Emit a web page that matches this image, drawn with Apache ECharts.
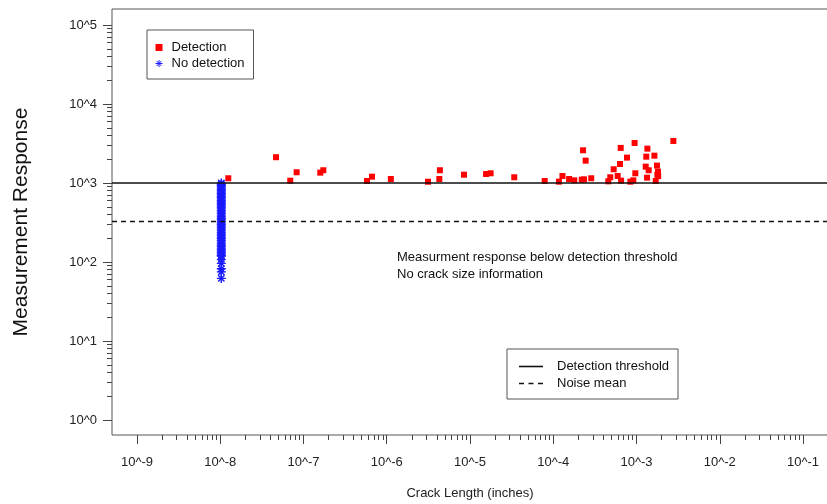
<!DOCTYPE html>
<html>
<head>
<meta charset="utf-8">
<script src="https://cdn.jsdelivr.net/npm/echarts@6/dist/echarts.min.js"></script>
<style>
html,body{margin:0;padding:0;background:#fff;}
#chart{width:827px;height:504px;}
</style>
</head>
<body>
<div id="chart"></div>
<script>
// ---- data (crack length in inches, measurement response) ----
const detectionX = [1.25e-8,4.68e-8,6.93e-8,8.28e-8,1.59e-7,1.73e-7,5.79e-7,6.65e-7,1.12e-6,3.13e-6,
  4.28e-6,4.35e-6,8.47e-6,1.56e-5,1.77e-5,3.40e-5,7.89e-5,1.17e-4,1.29e-4,1.55e-4,
  1.79e-4,2.20e-4,2.34e-4,2.28e-4,2.45e-4,2.86e-4,4.58e-4,4.84e-4,5.32e-4,5.94e-4,
  6.34e-4,6.46e-4,6.52e-4,7.69e-4,8.43e-4,9.16e-4,9.68e-4,9.48e-4,1.35e-3,1.31e-3,
  1.64e-3,1.29e-3,1.40e-3,1.34e-3,1.76e-3,1.81e-3,1.78e-3,1.82e-3,1.70e-3,2.77e-3];
const detectionY = [1148,2120,1070,1367,1352,1450,1060,1202,1124,1038,
  1124,1450,1274,1300,1327,1181,1060,1040,1227,1124,
  1080,1100,1112,2594,1918,1148,1050,1181,1492,1227,
  1741,2780,1070,2094,1040,1080,1327,3212,2720,2153,
  2218,1611,1450,1168,1660,1390,1274,1220,1060,3404];
const noDetectionX = 1.03e-8;
const noDetectionY = [1000,965,930,895,860,830,800,770,740,710,680,655,630,605,580,555,530,510,490,470,
  450,430,410,392,375,358,342,327,312,298,285,272,260,248,237,226,216,206,197,188,
  180,172,164,157,150,144,138,132,126,121,119,108,96,82,75,62];
const thresholdValue = 1000;
const noiseMeanValue = 330;
const xTickExponents = [-9,-8,-7,-6,-5,-4,-3,-2,-1];
const yTickExponents = [0,1,2,3,4,5];
const xLabel = 'Crack Length (inches)';
const yLabel = 'Measurement Response';
const noteLines = ['Measurment response below detection threshold','No crack size information'];

// ---- build ----
const lg = Math.log10;
const minorX = [];
for (let e = -9; e <= -2; e++) for (let k = 2; k <= 9; k++) minorX.push(e + lg(k));
const minorY = [];
for (let e = 0; e <= 4; e++) for (let k = 2; k <= 9; k++) minorY.push(e + lg(k));

const X_MIN = -9.3, X_MAX = -0.7, Y_MIN = -0.19, Y_MAX = 5.2025;
const FONT = 'Liberation Sans, Arial, sans-serif';
const starPath = 'path://M0,-10L0,10M-10,0L10,0M-7,-7L7,7M-7,7L7,-7';
const squareIcon = 'path://M0,0h10v10h-10z';
const solidIcon = 'path://M0,0h24v1.6h-24z';
const dashIcon = 'path://M0,0h5v1.4h-5z M9.5,0h5v1.4h-5z M19,0h5v1.4h-5z';

const chart = echarts.init(document.getElementById('chart'), null, {renderer:'canvas'});
const option = {
  animation: false,
  backgroundColor: '#fff',
  grid: {left:112, top:9, width:716, height:426, show:true, borderColor:'#555', borderWidth:1, backgroundColor:'transparent', outerBoundsMode:'none'},
  xAxis: [
    {type:'value', min:X_MIN, max:X_MAX, gridIndex:0,
     axisLine:{show:false, onZero:false}, splitLine:{show:false},
     axisTick:{show:true, customValues:xTickExponents, length:9, lineStyle:{color:'#444'}},
     axisLabel:{customValues:xTickExponents, formatter:v=>'10^'+Math.round(v), margin:21, color:'#222', fontSize:13, fontFamily:FONT},
     name:xLabel, nameLocation:'middle', nameGap:52, nameTextStyle:{fontSize:13, color:'#222', fontFamily:FONT}},
    {type:'value', min:X_MIN, max:X_MAX, gridIndex:0, position:'bottom',
     axisLine:{show:false, onZero:false}, splitLine:{show:false}, axisLabel:{show:false},
     axisTick:{show:true, customValues:minorX, length:5, lineStyle:{color:'#444'}}}
  ],
  yAxis: [
    {type:'value', min:Y_MIN, max:Y_MAX, gridIndex:0,
     axisLine:{show:false, onZero:false}, splitLine:{show:false},
     axisTick:{show:true, customValues:yTickExponents, length:9, lineStyle:{color:'#444'}},
     axisLabel:{customValues:yTickExponents, formatter:v=>'10^'+Math.round(v), margin:15, color:'#222', fontSize:13, fontFamily:FONT},
     name:yLabel, nameLocation:'middle', nameGap:80, nameTextStyle:{fontSize:21, color:'#111', fontFamily:FONT}},
    {type:'value', min:Y_MIN, max:Y_MAX, gridIndex:0, position:'left',
     axisLine:{show:false, onZero:false}, splitLine:{show:false}, axisLabel:{show:false},
     axisTick:{show:true, customValues:minorY, length:5, lineStyle:{color:'#444'}}}
  ],
  legend: [
    {data:[
       {name:'Detection', icon:squareIcon, itemStyle:{color:'#ff0000', borderWidth:0}},
       {name:'No detection', icon:starPath, itemStyle:{color:'#1a1aff', borderColor:'#1a1aff', borderWidth:1}}
     ],
     orient:'vertical', left:147, top:30,
     padding:[11,9,9,8], itemGap:3, itemWidth:15, itemHeight:7,
     borderColor:'#555', borderWidth:1, backgroundColor:'#fff', selectedMode:false,
     textStyle:{fontSize:13, color:'#111', fontFamily:FONT, lineHeight:13}},
    {data:[
       {name:'Detection threshold', icon:solidIcon, itemStyle:{color:'#111', borderWidth:0}},
       {name:'Noise mean', icon:dashIcon, itemStyle:{color:'#111', borderWidth:0}}
     ],
     orient:'vertical', left:507, top:349,
     padding:[11,9,9,12], itemGap:4, itemWidth:24, itemHeight:10,
     borderColor:'#555', borderWidth:1, backgroundColor:'#fff', selectedMode:false,
     textStyle:{fontSize:13, color:'#111', fontFamily:FONT, lineHeight:13, padding:[0,0,0,9]}}
  ],
  graphic: [
    {type:'text', left:397, top:249, silent:true,
     style:{text:noteLines.join('\n'), fontSize:13, lineHeight:16.7, fill:'#111', fontFamily:FONT}}
  ],
  series: [
    {name:'Detection threshold', type:'line', data:[], symbol:'none', xAxisIndex:0, yAxisIndex:0,
     itemStyle:{color:'#111'}, lineStyle:{color:'#111', width:1.6, type:'solid'},
     markLine:{silent:true, symbol:'none', label:{show:false}, lineStyle:{color:'#111', width:1.6, type:'solid'},
       data:[{yAxis:lg(thresholdValue)}]}},
    {name:'Noise mean', type:'line', data:[], symbol:'none', xAxisIndex:0, yAxisIndex:0,
     itemStyle:{color:'#111'}, lineStyle:{color:'#111', width:1.3, type:[5,4]},
     markLine:{silent:true, symbol:'none', label:{show:false}, lineStyle:{color:'#111', width:1.3, type:[5,4]},
       data:[{yAxis:lg(noiseMeanValue)}]}},
    {name:'No detection', type:'scatter', xAxisIndex:0, yAxisIndex:0,
     symbol:starPath, symbolSize:9,
     itemStyle:{color:'#1a1aff', borderColor:'#1a1aff', borderWidth:1.4, opacity:1},
     data:noDetectionY.map(y=>[lg(noDetectionX), lg(y)])},
    {name:'Detection', type:'scatter', xAxisIndex:0, yAxisIndex:0,
     symbol:'rect', symbolSize:6,
     itemStyle:{color:'#ff0000', opacity:1},
     data:detectionX.map((x,i)=>[lg(x), lg(detectionY[i])])}
  ]
};
chart.setOption(option);
</script>
</body>
</html>
